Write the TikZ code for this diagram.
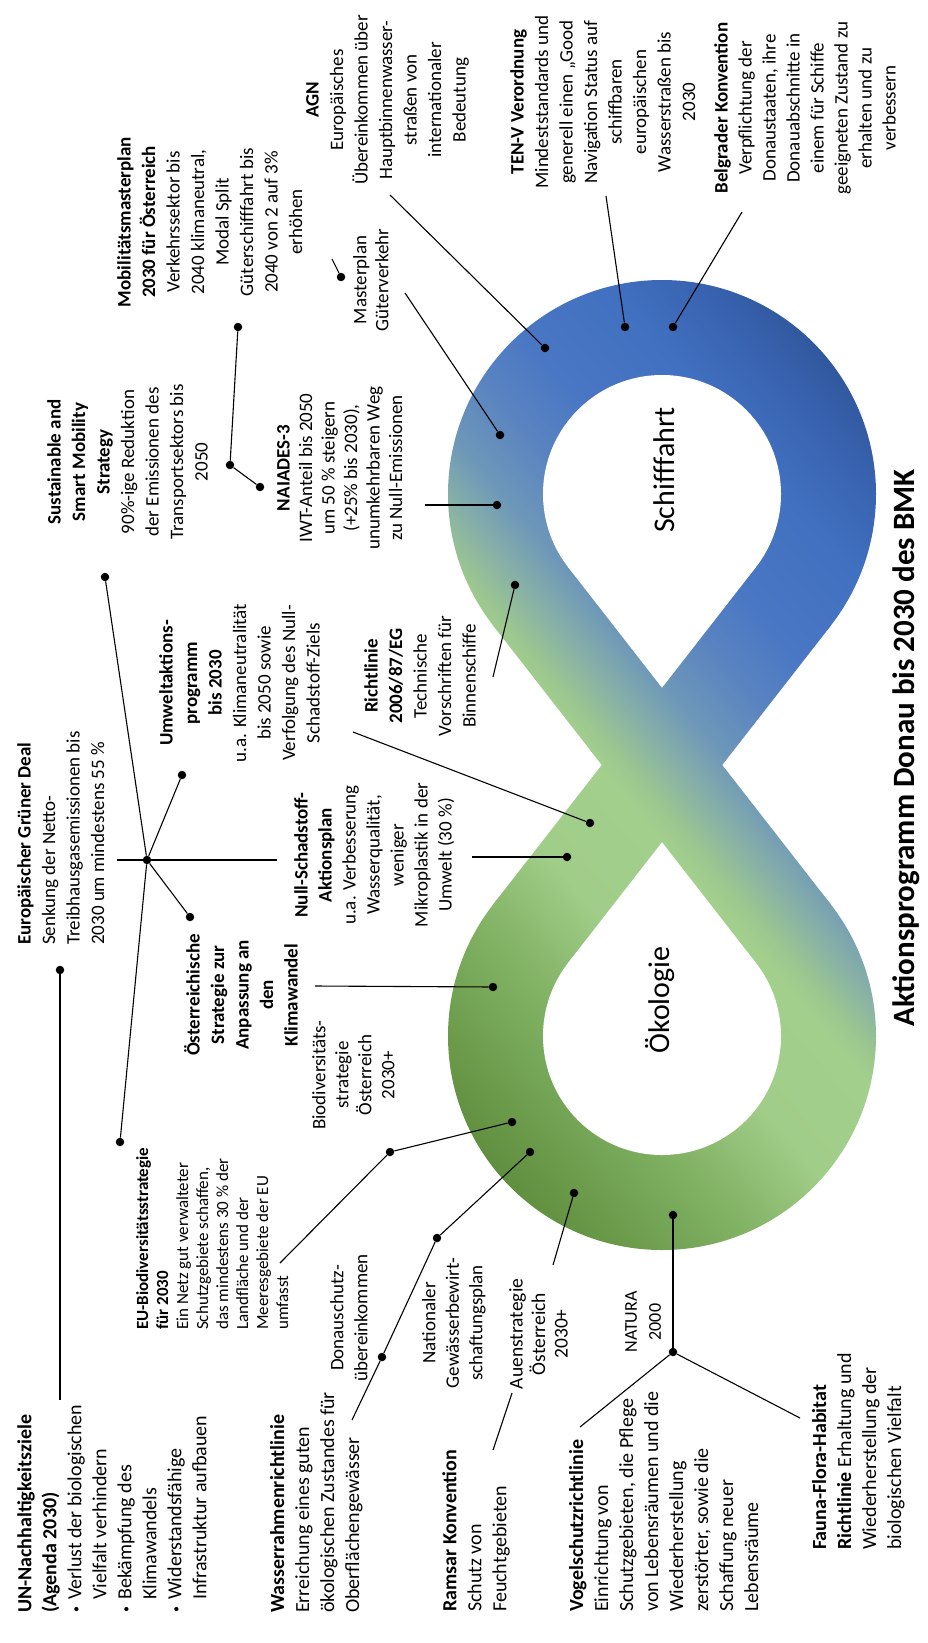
\documentclass[tikz,border=0pt]{standalone}
\usepackage{fontspec}
\setmainfont{Carlito}

\definecolor{gA}{HTML}{568636}
\definecolor{gB}{HTML}{6A9A4A}
\definecolor{gC}{HTML}{82B264}
\definecolor{gD}{HTML}{A0CD88}
\definecolor{gE}{HTML}{A3CF8D}
\definecolor{gF}{HTML}{9CC78F}
\definecolor{gG}{HTML}{86AFA8}
\definecolor{gH}{HTML}{6E98B8}
\definecolor{gI}{HTML}{5A84C0}
\definecolor{gJ}{HTML}{4A77C4}
\definecolor{gK}{HTML}{4070C0}
\definecolor{gL}{HTML}{3760AC}
\definecolor{gM}{HTML}{2E5597}
\pgfdeclarehorizontalshading{bandshade}{1100bp}{color(0bp)=(gA); color(90bp)=(gB); color(190bp)=(gC); color(283bp)=(gD); color(380bp)=(gE); color(400bp)=(gF); color(440bp)=(gG); color(480bp)=(gH); color(540bp)=(gI); color(600bp)=(gJ); color(700bp)=(gK); color(780bp)=(gL); color(830bp)=(gM)}

\newcommand{\bandpart}[1]{\begin{scope}\clip #1;\node[bandpiece] at (652,774) {\pgfuseshading{bandshade}};\end{scope}}
\newcommand{\unbul}{\makebox[13pt][l]{\raisebox{1.5pt}{\fontsize{12}{12}\selectfont •}}}
\newcommand{\unind}{\hspace*{13pt}}

\tikzset{
  txt/.style={rotate=90, inner sep=0pt, font=\fontsize{19}{24.5}\selectfont},
  txtL/.style={txt, align=left, anchor=north west},
  txtC/.style={txt, align=center, anchor=north},
  blackdot/.style={circle, fill=black, inner sep=0pt, minimum size=8.5pt},
  conline/.style={line width=1.1pt},
  bandpiece/.style={rotate=40.4, inner sep=0pt, outer sep=0pt}
}

\begin{document}
\begin{tikzpicture}[x=1pt, y=-1pt]
			%%%%% START %%%%%
			\fill[white] (0,0) rectangle (928,1643);
			\useasboundingbox (0,0) rectangle (928,1643);
			
			% infinity band
			\bandpart{(662,494) circle (214)}
			\bandpart{(662,1036) circle (214)}
			\bandpart{(830.9,625.5) -- (755.9,567.1) -- (493.1,904.5) -- (568.1,962.9) -- cycle}
			\bandpart{(568.1,567.1) -- (493.1,625.5) -- (755.9,962.9) -- (830.9,904.5) -- cycle}
			\fill[white] (662,494) circle (119);
			\fill[white] (662,687.7) -- (755.9,567.1) -- (568.1,567.1) -- cycle;
			\fill[white] (662,1036) circle (119);
			\fill[white] (662,842.3) -- (755.9,962.9) -- (568.1,962.9) -- cycle;
			
			\node[txt, font=\fontsize{30}{36}\selectfont] (schiff) at (664,470) {Schifffahrt};
			\node[txt, font=\fontsize{30}{36}\selectfont] (oeko) at (660,1000) {Ökologie};
			\node[txt, font=\bfseries\fontsize{31}{37}\selectfont] (title) at (906,748) {Aktionsprogramm Donau bis 2030 des BMK};
			
			% texts
			\node[txtL, font=\fontsize{20}{25}\selectfont] (un) at (17,1613) {\textbf{UN-Nachhaltigkeitsziele}\\ \textbf{(Agenda 2030)}\\ \unbul Verlust der biologischen\\ \unind Vielfalt verhindern\\ \unbul Bekämpfung des\\ \unind Klimawandels\\ \unbul Widerstandsfähige\\ \unind Infrastruktur aufbauen};
			\node[txtL, font=\fontsize{20}{25}\selectfont] (wrrl) at (270,1613) {\textbf{Wasserrahmenrichtlinie}\\ Erreichung eines guten\\ ökologischen Zustandes für\\ Oberflächengewässer};
			\node[txtL, font=\fontsize{20}{25}\selectfont] (ramsar) at (442,1612) {\textbf{Ramsar Konvention}\\ Schutz von\\ Feuchtgebieten};
			\node[txtL, font=\fontsize{20}{25}\selectfont] (vogel) at (569,1612) {\textbf{Vogelschutzrichtlinie}\\ Einrichtung von\\ Schutzgebieten, die Pflege\\ von Lebensräumen und die\\ Wiederherstellung\\ zerstörter, sowie die\\ Schaffung neuer\\ Lebensräume};
			\node[txtL, font=\fontsize{20}{25}\selectfont] (fauna) at (812,1550) {\textbf{Fauna-Flora-Habitat}\\ \textbf{Richtlinie} Erhaltung und\\ Wiederherstellung der\\ biologischen Vielfalt};
			\node[txtL, font=\fontsize{17}{20}\selectfont] (eubio) at (136,1330) {\textbf{EU-Biodiversitätsstrategie}\\ \textbf{für 2030}\\ Ein Netz gut verwalteter\\ Schutzgebiete schaffen,\\ das mindestens 30 \% der\\ Landfläche und der\\ Meeresgebiete der EU\\ umfasst};
			\node[txtL] (green) at (17,945) {\textbf{Europäischer Grüner Deal}\\ Senkung der Netto-\\ Treibhausgasemissionen bis\\ 2030 um mindestens 55 \%};
			\node[txtC] (smart) at (47,462) {\textbf{Sustainable and}\\ \textbf{Smart Mobility}\\ \textbf{Strategy}\\ 90\%-ige Reduktion\\ der Emissionen des\\ Transportsektors bis\\ 2050};
			\node[txtC] (mobil) at (117,222) {\textbf{Mobilitätsmasterplan}\\ \textbf{2030 für Österreich}\\ Verkehrssektor bis\\ 2040 klimaneutral,\\ Modal Split\\ Güterschifffahrt bis\\ 2040 von 2 auf 3\%\\ erhöhen};
			\node[txtC, font=\fontsize{19}{22.5}\selectfont] (naiades) at (277,468) {\textbf{NAIADES-3}\\ IWT-Anteil bis 2050\\ um 50 \% steigern\\ (+25\% bis 2030),\\ unumkehrbaren Weg\\ zu Null-Emissionen};
			\node[txtC, font=\fontsize{19}{22}\selectfont] (master) at (353,280) {Masterplan\\ Güterverkehr};
			\node[txtC] (agn) at (306,100) {\textbf{AGN}\\ Europäisches\\ Übereinkommen über\\ Hauptbinnenwasser-\\ straßen von\\ internationaler\\ Bedeutung};
			\node[txtC] (tenv) at (510,102) {\textbf{TEN-V Verordnung}\\ Mindeststandards und\\ generell einen „Good\\ Navigation Status auf\\ schiffbaren\\ europäischen\\ Wasserstraßen bis\\ 2030};
			\node[txtC, font=\fontsize{19}{24}\selectfont] (belgrad) at (714,108) {\textbf{Belgrader Konvention}\\ Verpflichtung der\\ Donaustaaten, ihre\\ Donauabschnitte in\\ einem für Schiffe\\ geeigneten Zustand zu\\ erhalten und zu\\ verbessern};
			\node[txtC] (umwelt) at (159,683) {\textbf{Umweltaktions-}\\ \textbf{programm}\\ \textbf{bis 2030}\\ u.a. Klimaneutralität\\ bis 2050 sowie\\ Verfolgung des Null-\\ Schadstoff-Ziels};
			\node[txtC] (richt) at (364,676) {\textbf{Richtlinie}\\ \textbf{2006/87/EG}\\ Technische\\ Vorschriften für\\ Binnenschiffe};
			\node[txtC, font=\fontsize{19}{24}\selectfont] (null) at (294,855) {\textbf{Null-Schadstoff-}\\ \textbf{Aktionsplan}\\ u.a. Verbesserung\\ Wasserqualität,\\ weniger\\ Mikroplastik in der\\ Umwelt (30 \%)};
			\node[txtC] (anpass) at (184,995) {\textbf{Österreichische}\\ \textbf{Strategie zur}\\ \textbf{Anpassung an}\\ \textbf{den}\\ \textbf{Klimawandel}};
			\node[txtC, font=\fontsize{19}{23}\selectfont] (biodiv) at (312,1075) {Biodiversitäts-\\ strategie\\ Österreich\\ 2030+};
			\node[txtC, font=\fontsize{19}{24}\selectfont] (donau) at (330,1318) {Donauschutz-\\ übereinkommen};
			\node[txtC, font=\fontsize{19}{23.5}\selectfont] (gewaess) at (422,1323) {Nationaler\\ Gewässerbewirt-\\ schaftungsplan};
			\node[txtC, font=\fontsize{19.5}{22.5}\selectfont] (auen) at (509,1334) {Auenstrategie\\ Österreich\\ 2030+};
			\node[txtC, font=\fontsize{18}{24}\selectfont] (natura) at (625,1322) {NATURA\\ 2000};
			
			% dots on the band
			\node[blackdot] (rAgn) at (545,348) {};
			\node[blackdot] (rTen) at (625,327) {};
			\node[blackdot] (rBelg) at (673,327) {};
			\node[blackdot] (rMaster) at (500,435) {};
			\node[blackdot] (rNaiades) at (497,505) {};
			\node[blackdot] (rRicht) at (515,585) {};
			\node[blackdot] (rUmwelt) at (590,823) {};
			\node[blackdot] (rNull) at (567,857) {};
			\node[blackdot] (rAnpass) at (493,987) {};
			\node[blackdot] (rBiodiv) at (512,1122) {};
			\node[blackdot] (rGewaess) at (530,1152) {};
			\node[blackdot] (rAuen) at (574,1193) {};
			\node[blackdot] (rNatura) at (673,1215) {};
			
			% dots at the texts
			\node[blackdot] (dSmart) at (105,577) {};
			\node[blackdot] (dGreen) at (147,860) {};
			\node[blackdot] (dUmwelt) at (182,775) {};
			\node[blackdot] (dAnpass) at (190,917) {};
			\node[blackdot] (dEuBio) at (120,1142) {};
			\node[blackdot] (dUn) at (60,970) {};
			\node[blackdot] (dSmartJ) at (230,465) {};
			\node[blackdot] (dMobil) at (238,327) {};
			\node[blackdot] (dNaiades) at (260,487) {};
			\node[blackdot] (dMaster) at (341,277) {};
			\node[blackdot] (dBiodiv) at (390,1152) {};
			\node[blackdot] (dDonau) at (382,1357) {};
			\node[blackdot] (dGewaess) at (437,1238) {};
			\node[blackdot] (dNatura) at (673,1352) {};
			
			% free ends
			\coordinate (cUn) at (60,1400);
			\coordinate (cGreenL) at (117,860);
			\coordinate (cGreenR) at (277,860);
			\coordinate (cNaiades) at (425,505);
			\coordinate (cMaster) at (405,293);
			\coordinate (cMasterTick) at (332,259);
			\coordinate (cAgn) at (390,195);
			\coordinate (cTen) at (606,196);
			\coordinate (cBelg) at (742,212);
			\coordinate (cRicht) at (493,677);
			\coordinate (cUmwelt) at (353,732);
			\coordinate (cNull) at (472,857);
			\coordinate (cAnpass) at (315,986);
			\coordinate (cEuBio) at (280,1263);
			\coordinate (cWrrl) at (352,1420);
			\coordinate (cAuen) at (553,1265);
			\coordinate (cRamsarA) at (493,1450);
			\coordinate (cRamsarB) at (512,1393);
			\coordinate (cVogel) at (580,1427);
			\coordinate (cFauna) at (800,1418);
			
			% connectors
			\draw[conline] (dUn) -- (cUn);
			\draw[conline] (cGreenL) -- (cGreenR);
			\draw[conline] (dGreen) -- (dSmart);
			\draw[conline] (dGreen) -- (dUmwelt);
			\draw[conline] (dGreen) -- (dAnpass);
			\draw[conline] (dGreen) -- (dEuBio);
			\draw[conline] (dMobil) -- (dSmartJ) -- (dNaiades);
			\draw[conline] (cNaiades) -- (rNaiades);
			\draw[conline] (cMaster) -- (rMaster);
			\draw[conline] (dMaster) -- (cMasterTick);
			\draw[conline] (cAgn) -- (rAgn);
			\draw[conline] (cTen) -- (rTen);
			\draw[conline] (cBelg) -- (rBelg);
			\draw[conline] (cRicht) -- (rRicht);
			\draw[conline] (cUmwelt) -- (rUmwelt);
			\draw[conline] (cNull) -- (rNull);
			\draw[conline] (cAnpass) -- (rAnpass);
			\draw[conline] (cEuBio) -- (dBiodiv) -- (rBiodiv);
			\draw[conline] (cWrrl) -- (dDonau) -- (dGewaess) -- (rGewaess);
			\draw[conline] (cAuen) -- (rAuen);
			\draw[conline] (cRamsarA) -- (cRamsarB);
			\draw[conline] (rNatura) -- (dNatura);
			\draw[conline] (dNatura) -- (cVogel);
			\draw[conline] (dNatura) -- (cFauna);
			%%%%% END %%%%%
\end{tikzpicture}
\end{document}
